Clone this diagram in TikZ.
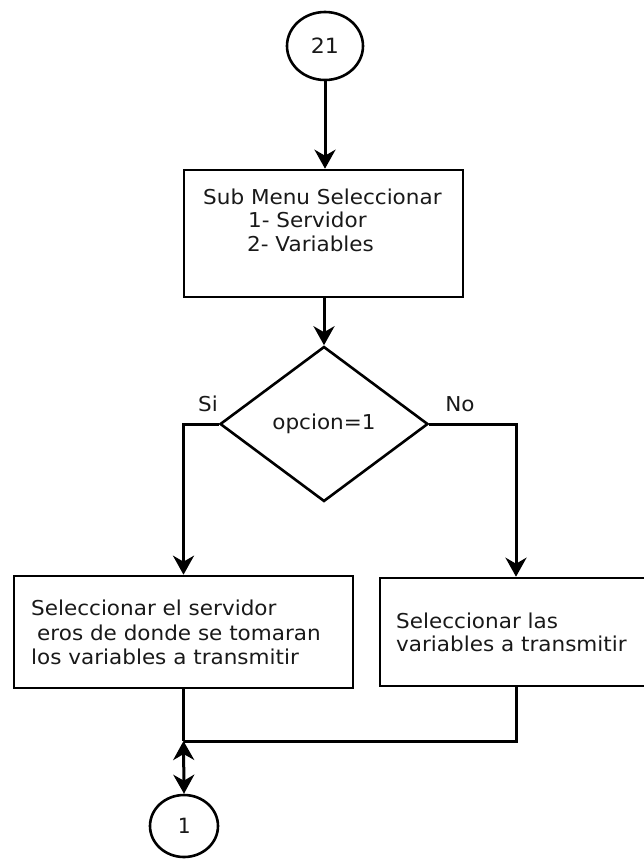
\documentclass[tikz,border=0pt]{standalone}
\usepackage{fontspec}
\setmainfont{DejaVu Sans}[FakeStretch=1.05]
\newfontfamily\monofont{DejaVu Sans Mono}
\usetikzlibrary{shapes.geometric,arrows.meta}

\begin{document}
\begin{tikzpicture}[x=1pt,y=-1pt,
  every node/.style={font=\fontsize{20.5}{23.5}\selectfont, text=black!90},
  shape line/.style={draw, line width=2.6pt},
  boxnode/.style={shape line, rectangle, inner sep=0pt},
  connector/.style={draw, line width=3pt},
  tip/.style={-{Stealth[length=19pt,width=21pt,inset=6pt]}},
  bothtips/.style={{Stealth[length=19pt,width=21pt,inset=6pt]}-{Stealth[length=19pt,width=21pt,inset=6pt]}},
  label text/.style={inner sep=0pt, align=left, anchor=west},
]
\useasboundingbox (0,0) rectangle (643,860);

% connector circles
\node[shape line, ellipse, minimum width=76, minimum height=68, inner sep=0pt,
      font=\fontsize{21}{22}\selectfont] (c21) at (325,46) {21};
\node[shape line, ellipse, minimum width=68, minimum height=62, inner sep=0pt,
      font=\monofont\fontsize{21}{22}\selectfont] (c1) at (184,826) {1};

% sub menu box
\node[boxnode, minimum width=279, minimum height=127] (menu) at (323.5,233.5) {};
\node[label text] (menutxt) at (203,220)
  {Sub Menu Seleccionar\\\hspace*{45pt}1- Servidor\\\hspace*{44pt}2- Variables};

% decision
\node[shape line, diamond, aspect=1.342, minimum width=208, minimum height=155,
      inner sep=0pt] (dec) at (324,424) {opcion=1};
\node[inner sep=0pt] (si) at (208,404) {Si};
\node[inner sep=0pt] (no) at (460,404) {No};

% branch boxes
\node[boxnode, minimum width=339, minimum height=112] (lbox) at (183.5,632) {};
\node[label text, font=\fontsize{20.5}{24.5}\selectfont] (ltxt) at (31,632.5)
  {Seleccionar el servidor\\\hspace*{6pt}eros de donde se tomaran\\los variables a transmitir};
\node[boxnode, minimum width=272, minimum height=108] (rbox) at (516,632) {};
\node[label text] (rtxt) at (396,632.5) {Seleccionar las\\variables a transmitir};

% connectors
\draw[connector, tip] (c21.south) -- (c21.south |- menu.north);
\draw[connector, tip] (menu.south -| dec.north) -- (dec.north);
\draw[connector, tip] (dec.west) -| (lbox.north);
\draw[connector, tip] (dec.east) -| (rbox.north);
\coordinate (join) at (183.5,741);
\draw[connector] (lbox.south) -- (join);
\draw[connector] (rbox.south) |- (join);
\draw[connector, bothtips] (join) -- (c1.north);
\end{tikzpicture}
\end{document}
